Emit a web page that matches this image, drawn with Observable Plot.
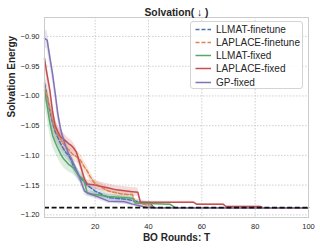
<!DOCTYPE html>
<html>
<head>
<meta charset="utf-8">
<script src="https://cdn.jsdelivr.net/npm/d3@7"></script>
<script src="https://cdn.jsdelivr.net/npm/@observablehq/plot@0.6"></script>
<style>
  body { margin: 0; background: #fff; }
  #wrap { position: relative; width: 320px; height: 248px; font-family: "Liberation Sans", Arial, sans-serif; }
  #legend { position: absolute; left: 190px; top: 21px; width: 113px; height: 68px; border: 1px solid #d4d4d4; border-radius: 3px; background: rgba(255,255,255,0.85); box-sizing: border-box; }
  .lrow { position: absolute; left: 0; height: 13px; width: 112px; }
  .lrow svg { position: absolute; left: 4px; top: 0; }
  .lrow span { position: absolute; left: 25px; top: 0; font-size: 10px; line-height: 13px; color: #262626; white-space: nowrap; }
</style>
</head>
<body>
<div id="wrap"></div>
<script>
// ---- data ----
const titleText = "Solvation( \u2193 )";
const xLabel = "BO Rounds: T";
const yLabel = "Solvation Energy";
const seriesNames = ["LLMAT-finetune", "LAPLACE-finetune", "LLMAT-fixed", "LAPLACE-fixed", "GP-fixed"];
const xTicks = [20, 40, 60, 80, 100];
const yTicks = [-0.90, -0.95, -1.00, -1.05, -1.10, -1.15, -1.20];
const optimum = -1.188;

const tLlmatFt = [1,2,3,4,5,6,7,8,9,10,11,12,13,14,15,17,20,25,32,37,41,42,100];
const vLlmatFt = [-0.979,-1.000,-1.025,-1.045,-1.060,-1.070,-1.080,-1.088,-1.095,-1.100,-1.108,-1.120,-1.128,-1.135,-1.140,-1.150,-1.160,-1.171,-1.174,-1.179,-1.182,-1.188,-1.188];
const sLlmatFt = [0.018,0.017,0.016,0.015,0.014,0.013,0.012,0.011,0.010,0.010,0.009,0.009,0.008,0.008,0.007,0.006,0.006,0.005,0.005,0.004,0.003,0,0];

const tLaplaceFt = [1,2,3,4,5,6,7,8,9,10,11,12,13,14,15,16,17,18,20,25,30,34,35,38,41,42,100];
const vLaplaceFt = [-0.984,-1.000,-1.020,-1.040,-1.055,-1.065,-1.072,-1.080,-1.085,-1.090,-1.095,-1.100,-1.102,-1.105,-1.112,-1.120,-1.126,-1.135,-1.148,-1.160,-1.165,-1.166,-1.179,-1.182,-1.186,-1.188,-1.188];
const sLaplaceFt = [0.020,0.019,0.018,0.017,0.016,0.015,0.014,0.013,0.012,0.012,0.011,0.011,0.010,0.010,0.010,0.009,0.009,0.008,0.007,0.006,0.005,0.005,0.004,0.003,0.002,0,0];

const tLlmatFx = [1,2,3,4,5,6,7,8,9,10,11,12,13,14,15,16,17,20,25,34,35,48,50,100];
const vLlmatFx = [-0.990,-1.017,-1.045,-1.066,-1.078,-1.088,-1.097,-1.105,-1.110,-1.115,-1.118,-1.122,-1.128,-1.135,-1.138,-1.145,-1.163,-1.166,-1.169,-1.172,-1.180,-1.182,-1.188,-1.188];
const sLlmatFx = [0.022,0.021,0.020,0.019,0.018,0.017,0.016,0.015,0.014,0.013,0.012,0.011,0.010,0.009,0.008,0.007,0.005,0.005,0.004,0.004,0.003,0.002,0,0];

const tLaplaceFx = [1,2,3,4,5,6,7,8,9,10,11,12,13,14,15,16,17,20,25,28,34,36,37,57,58,68,69,82,83,100];
const vLaplaceFx = [-0.937,-0.965,-0.990,-1.025,-1.050,-1.060,-1.069,-1.072,-1.076,-1.080,-1.083,-1.088,-1.095,-1.110,-1.125,-1.140,-1.148,-1.150,-1.155,-1.158,-1.161,-1.162,-1.179,-1.179,-1.182,-1.182,-1.186,-1.186,-1.188,-1.188];
const sLaplaceFx = [0.012,0.012,0.012,0.011,0.011,0.010,0.010,0.010,0.009,0.009,0.009,0.008,0.008,0.008,0.008,0.008,0.007,0.007,0.007,0.007,0.007,0.007,0.002,0.002,0.001,0.001,0.001,0.001,0,0];

const tGp = [1,2,3,4,5,6,7,8,9,10,11,12,13,14,15,16,17,18,20,25,31,34,37,40,100];
const vGp = [-0.903,-0.906,-0.935,-0.962,-0.995,-1.030,-1.055,-1.072,-1.085,-1.097,-1.105,-1.115,-1.125,-1.135,-1.148,-1.160,-1.163,-1.165,-1.168,-1.177,-1.178,-1.182,-1.185,-1.188,-1.188];
const sGp = [0.015,0.015,0.014,0.014,0.013,0.012,0.011,0.010,0.010,0.009,0.009,0.008,0.008,0.007,0.007,0.006,0.006,0.005,0.005,0.004,0.004,0.003,0.002,0,0];

// ---- styles ----
const colors = ["#4C72B0", "#DD8452", "#55A868", "#C44E52", "#8172B3"];
const dashes = ["4,2", "4,2", null, null, null];

const seriesData = [
  [tLlmatFt, vLlmatFt, sLlmatFt],
  [tLaplaceFt, vLaplaceFt, sLaplaceFt],
  [tLlmatFx, vLlmatFx, sLlmatFx],
  [tLaplaceFx, vLaplaceFx, sLaplaceFx],
  [tGp, vGp, sGp]
];
const tables = seriesData.map(([t, v, s], i) =>
  t.map((T, j) => ({series: seriesNames[i], T, v: v[j], lo: v[j] - s[j], hi: v[j] + s[j]})));

const bandMarks = tables.map((rows, i) =>
  Plot.areaY(rows, {x: "T", y1: "lo", y2: "hi", fill: colors[i], fillOpacity: 0.2}));
const lineMarks = tables.map((rows, i) =>
  Plot.line(rows, {x: "T", y: "v", stroke: colors[i], strokeWidth: 1.5, strokeDasharray: dashes[i] || undefined}));

const fmt = d3.format(".2f");
const chart = Plot.plot({
  width: 320, height: 248,
  marginLeft: 44, marginRight: 12, marginTop: 17, marginBottom: 31,
  style: {fontFamily: '"Liberation Sans", Arial, sans-serif', color: "#262626", background: "#fff"},
  x: {domain: [1, 100]},
  y: {domain: [-1.2045, -0.868]},
  marks: [
    Plot.gridX(xTicks.slice(0, 4), {stroke: "#c4c4c4", strokeOpacity: 1, strokeWidth: 0.8, strokeDasharray: "1.5,1.5"}),
    Plot.gridY(yTicks, {stroke: "#c4c4c4", strokeOpacity: 1, strokeWidth: 0.8, strokeDasharray: "1.5,1.5"}),
    ...bandMarks,
    ...lineMarks,
    Plot.ruleY([optimum], {stroke: "#111", strokeWidth: 1.8, strokeDasharray: "5,2.6"}),
    Plot.frame({stroke: "#cccccc", strokeWidth: 1}),
    Plot.axisX(xTicks, {tickSize: 0, tickPadding: 6, fontSize: 7.5, label: null}),
    Plot.axisY(yTicks, {tickSize: 0, tickPadding: 5, fontSize: 7.5, tickFormat: fmt, label: null}),
    Plot.text([titleText], {frameAnchor: "top", dy: -9, fontSize: 10.3, fontWeight: "bold", text: d => d}),
    Plot.text([xLabel], {frameAnchor: "bottom", dy: 23, fontSize: 10, fontWeight: "bold", text: d => d}),
    Plot.text([yLabel], {frameAnchor: "left", dx: -33, rotate: -90, fontSize: 10, fontWeight: "bold", text: d => d})
  ]
});

const wrap = document.getElementById("wrap");
wrap.appendChild(chart);

// legend
const legend = document.createElement("div");
legend.id = "legend";
seriesNames.forEach((name, i) => {
  const row = document.createElement("div");
  row.className = "lrow";
  row.style.top = (0.8 + i * 13.2) + "px";
  const dash = dashes[i] ? `stroke-dasharray="${dashes[i]}"` : "";
  row.innerHTML = `<svg width="17" height="13"><line x1="0.5" x2="16" y1="6.5" y2="6.5" stroke="${colors[i]}" stroke-width="1.5" ${dash}/></svg><span>${name}</span>`;
  legend.appendChild(row);
});
wrap.appendChild(legend);
</script>
</body>
</html>
